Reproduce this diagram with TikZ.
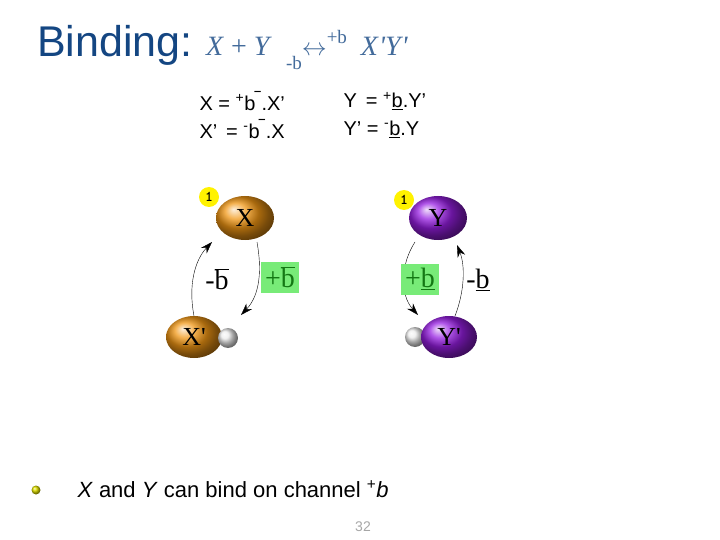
\documentclass[tikz,border=0pt]{standalone}
\usepackage{fontspec}
\setmainfont{Liberation Sans}
\newfontfamily\serifx{Liberation Serif}
\usetikzlibrary{shapes.geometric,arrows.meta}
\definecolor{titleblue}{RGB}{20,70,130}
\definecolor{orng}{RGB}{240,150,20}
\definecolor{purp}{RGB}{150,30,225}
\definecolor{grn}{RGB}{120,235,120}
\definecolor{dgrn}{RGB}{20,120,20}
\tikzset{
 xball/.style={ellipse,minimum width=58pt,minimum height=44pt,inner sep=0pt,font=\serifx\fontsize{26}{26}\selectfont},
 one/.style={circle,fill=yellow,minimum size=20pt,inner sep=0pt,font=\ttfamily\bfseries\fontsize{15}{15}\selectfont},
 grey/.style={circle,ball color=white!85!gray,minimum size=20pt,inner sep=0pt},
 arr/.style={-{Stealth[length=12pt,width=8pt]},thin},
 lbl/.style={font=\serifx\fontsize{28}{28}\selectfont},
 eq/.style={font=\fontsize{20}{20}\selectfont,anchor=west}
}
\begin{document}
\begin{tikzpicture}[x=1pt,y=-1pt]
\useasboundingbox (0,0) rectangle (720,540);
\node[anchor=west,text=titleblue,font=\fontsize{43}{43}\selectfont,inner sep=0pt] (t) at (37,45) {Binding:};
\node[anchor=west,text=titleblue!80,font=\serifx\fontsize{28}{28}\selectfont,inner sep=0pt] (f) at (206,50) {\textit{X} + \textit{Y}\ \ \raisebox{-1.1ex}{\fontsize{19}{19}\selectfont -b}{\fontsize{34}{34}\selectfont$\leftrightarrow$}\raisebox{1ex}{\fontsize{19}{19}\selectfont +b}\ \ \textit{X\kern1pt'Y\kern1pt'}};
\node[eq] (e1) at (196,101) {X = \textsuperscript{+}b\textsuperscript{\textbf{\char"203E}}.X'};
\node[eq] (e2) at (196,129) {X'\, = \textsuperscript{-}b\textsuperscript{\textbf{\char"203E}}.X};
\node[eq] (e3) at (340,101) {Y\, = \textsuperscript{+}\underline{b}.Y'};
\node[eq] (e4) at (340,129) {Y' = \textsuperscript{-}\underline{b}.Y};
\node[xball,ball color=orng] (X) at (245,218) {X};
\node[xball,ball color=orng,minimum width=56pt,minimum height=42pt] (Xp) at (194,337) {X'};
\node[grey] (gx) at (228,338) {};
\node[one] (o1) at (209,197) {1};
\node[xball,ball color=purp] (Y) at (438,218) {Y};
\node[grey] (gy) at (415,337) {};
\node[xball,ball color=purp,minimum width=56pt,minimum height=42pt] (Yp) at (449,337) {Y'};
\node[one] (o2) at (404,200) {1};
\coordinate (a1) at (212,242); \coordinate (a0) at (194,316);
\draw[arr] (a0) .. controls (188,285) and (195,260) .. (a1);
\coordinate (b0) at (257,242); \coordinate (b1) at (241,315);
\draw[arr] (b0) .. controls (262,270) and (260,295) .. (b1);
\coordinate (c0) at (415,242); \coordinate (c1) at (418,315);
\draw[arr] (c0) .. controls (400,265) and (400,295) .. (c1);
\coordinate (d0) at (455,316); \coordinate (d1) at (457,245);
\draw[arr] (d0) .. controls (465,290) and (465,265) .. (d1);
\node[lbl] (l1) at (217,279) {-$\overline{\mbox{b}}$};
\node[lbl,fill=grn,text=dgrn,minimum width=38pt,minimum height=31pt,inner sep=0pt] (l2) at (280,277) {+$\overline{\mbox{b}}$};
\node[lbl,fill=grn,text=dgrn,minimum width=38pt,minimum height=31pt,inner sep=0pt] (l3) at (420,279) {+\underline{b}};
\node[lbl] (l4) at (478,280) {-\underline{b}};
\node[circle,ball color=yellow!70!olive,minimum size=9pt,inner sep=0pt] (bul) at (36,490) {};
\node[anchor=west,font=\fontsize{22}{22}\selectfont] (bt) at (74,489) {\textit{X} and \textit{Y} can bind on channel \textsuperscript{+}\textit{b}};
\node[text=gray!70,font=\fontsize{14}{14}\selectfont] (pg) at (363,527) {32};
\end{tikzpicture}
\end{document}
